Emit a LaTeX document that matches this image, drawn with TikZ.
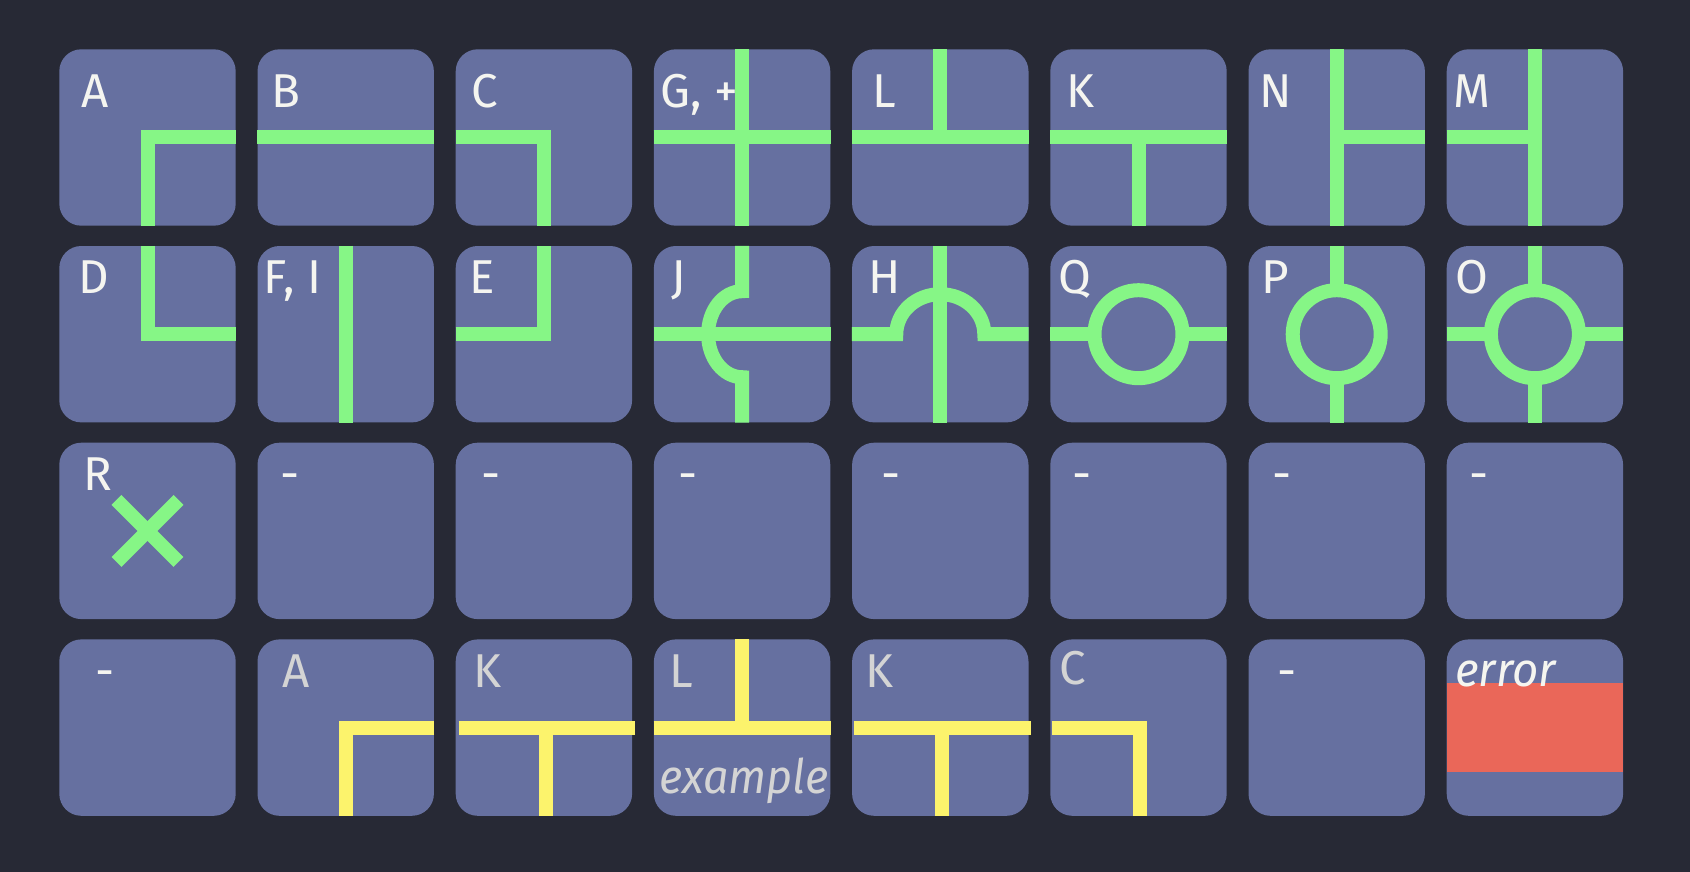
\documentclass[tikz,border=0pt]{standalone}
\usepackage{fontspec}
\setmainfont{Fira Sans}
\usetikzlibrary{calc}
\definecolor{bgc}{HTML}{272935}
\definecolor{tilec}{HTML}{6670A0}
\definecolor{greenc}{HTML}{86F686}
\definecolor{yellowc}{HTML}{FCF36C}
\definecolor{redc}{HTML}{EA6759}
\definecolor{whitec}{HTML}{F5F5F0}
\definecolor{greyc}{HTML}{D4D4D4}
\tikzset{
  tile/.style={fill=tilec, draw=none, rounded corners=22pt, minimum width=176.4pt, minimum height=176.4pt, inner sep=0pt},
  gl/.style={draw=greenc, line width=14pt},
  yl/.style={draw=yellowc, line width=14pt},
  lbl/.style={text=whitec, font=\fontsize{47.5}{50}\selectfont, inner sep=0pt, anchor=base west},
  glbl/.style={lbl, text=greyc},
}
\begin{document}
\begin{tikzpicture}[x=1pt,y=1pt]
\fill[bgc] (0,0) rectangle (1690,-872);
\useasboundingbox (0,0) rectangle (1690,-872);
\foreach \r in {0,...,3}{
  \foreach \c in {0,...,7}{
    \node[tile] (t\r\c) at ({147.5+198.2*\c},{-(137.5+196.7*\r)}) {};
  }
}
% ---- row 1
\draw[gl] (t00.east) -- (t00.center) -- (t00.south);
\draw[gl] (t01.west) -- (t01.east);
\draw[gl] (t02.west) -- (t02.center) -- (t02.south);
\draw[gl] (t03.west) -- (t03.east);
\draw[gl] (t03.north) -- (t03.south);
\draw[gl] (t04.west) -- (t04.east);
\draw[gl] (t04.north) -- (t04.center);
\draw[gl] (t05.west) -- (t05.east);
\draw[gl] (t05.center) -- (t05.south);
\draw[gl] (t06.north) -- (t06.south);
\draw[gl] (t06.center) -- (t06.east);
\draw[gl] (t07.north) -- (t07.south);
\draw[gl] (t07.west) -- (t07.center);
% ---- row 2
\draw[gl] (t10.north) -- (t10.center) -- (t10.east);
\draw[gl] (t11.north) -- (t11.south);
\draw[gl] (t12.west) -- (t12.center) -- (t12.north);
\draw[gl] (t13.west) -- (t13.east);
\draw[gl] (t13.north) -- ($(t13.center)+(0,43)$) arc[start angle=90, end angle=270, x radius=34, y radius=43] -- (t13.south);
\draw[gl] (t14.north) -- (t14.south);
\draw[gl] (t14.west) -- ($(t14.center)+(-44,0)$) arc[start angle=180, end angle=0, x radius=44, y radius=40] -- (t14.east);
\draw[gl] (t15.west) -- (t15.east);
\draw[gl, fill=tilec] (t15.center) circle[radius=44];
\draw[gl] (t16.north) -- (t16.south);
\draw[gl, fill=tilec] (t16.center) circle[radius=44];
\draw[gl] (t17.west) -- (t17.east);
\draw[gl] (t17.north) -- (t17.south);
\draw[gl, fill=tilec] (t17.center) circle[radius=44];
% ---- row 3
\draw[gl] ($(t20.center)+(-31,31)$) -- ($(t20.center)+(31,-31)$);
\draw[gl] ($(t20.center)+(-31,-31)$) -- ($(t20.center)+(31,31)$);
% ---- row 4
\draw[yl] (t31.east) -- (t31.center) -- (t31.south);
\draw[yl] ([xshift=3pt]t32.west) -- ([xshift=3pt]t32.east);
\draw[yl] ([xshift=2.5pt]t32.center) -- ([xshift=2.5pt]t32.south);
\draw[yl] (t33.west) -- (t33.east);
\draw[yl] (t33.north) -- (t33.center);
\draw[yl] ([xshift=2pt]t34.west) -- ([xshift=2pt]t34.east);
\draw[yl] ([xshift=2pt]t34.center) -- ([xshift=2pt]t34.south);
\draw[yl] ([xshift=1.5pt]t35.west) -- ([xshift=1.5pt]t35.center) -- ([xshift=1.5pt]t35.south);
\fill[redc] ($(t37.west)+(0,44.3)$) rectangle ($(t37.east)+(0,-44.1)$);
% ---- labels
\node[lbl] (lA) at (81.5,-107.7) {A};
\node[lbl] (lB) at (271,-107.7) {B};
\node[lbl] (lC) at (471.5,-107.7) {C};
\node[lbl] (lG) at (660,-107.7) {G, +};
\node[lbl] (lL) at (872.5,-107.7) {L};
\node[lbl] (lK) at (1066,-107.7) {K};
\node[lbl] (lN) at (1259.5,-107.7) {N};
\node[lbl] (lM) at (1453.5,-107.7) {M};
\node[lbl] (lD) at (78,-293.5) {D};
\node[lbl] (lF) at (263.5,-293.5) {F, I};
\node[lbl] (lE) at (469,-293.5) {E};
\node[lbl] (lJ) at (671,-293.5) {J};
\node[lbl] (lH) at (868,-293.5) {H};
\node[lbl] (lQ) at (1058.5,-293.5) {Q};
\node[lbl] (lP) at (1261.5,-293.5) {P};
\node[lbl] (lO) at (1455.5,-293.5) {O};
\node[lbl] (lR) at (83,-490) {R};
\node[lbl] (d1) at (280.7,-490) {-};
\node[lbl] (d2) at (481.5,-490) {-};
\node[lbl] (d3) at (678,-490) {-};
\node[lbl] (d4) at (881,-490) {-};
\node[lbl] (d5) at (1072.5,-490) {-};
\node[lbl] (d6) at (1272.3,-490) {-};
\node[lbl] (d7) at (1469,-490) {-};
\node[glbl, text=whitec] (e0) at (95.5,-687.3) {-};
\node[glbl] (yA) at (282.5,-687.3) {A};
\node[glbl] (yK1) at (473,-687.3) {K};
\node[glbl] (yL) at (669,-687.3) {L};
\node[glbl] (yK2) at (865.5,-687.3) {K};
\node[glbl] (yC) at (1059.5,-684) {C};
\node[lbl] (e6) at (1277.5,-687.3) {-};
\node[lbl, xscale=0.96, font=\fontsize{47.5}{50}\selectfont\itshape] (err) at (1455,-686) {error};
\node[glbl, xscale=0.945, font=\fontsize{47.5}{50}\selectfont\itshape] (ex) at (659,-793.3) {example};
\end{tikzpicture}
\end{document}
